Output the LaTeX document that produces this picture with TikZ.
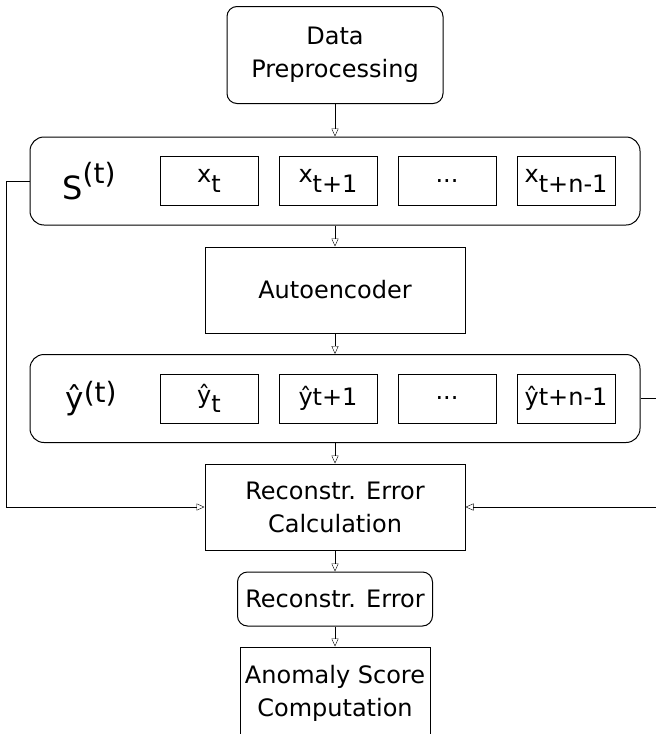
\documentclass[tikz,border=0pt]{standalone}
\usepackage{fontspec}
\setmainfont{DejaVu Sans}
\usetikzlibrary{positioning,arrows.meta}

\begin{document}
\begin{tikzpicture}[node distance=108pt, on grid, >={Triangle[open,length=8pt,width=7pt]},
        every node/.style={font=\fontsize{24}{33}\selectfont, align=center},
        block/.style={draw, line width=1pt, minimum width=260pt, minimum height=86pt, inner sep=0pt},
        roundblock/.style={block, rounded corners=10pt},
        group/.style={draw, line width=1pt, rounded corners=14pt, minimum width=610pt, minimum height=88pt},
        item/.style={draw, line width=1pt, minimum width=98pt, minimum height=49pt, inner sep=0pt}]
        \useasboundingbox (0,0) rectangle (656pt,-734pt);
        \clip (0,0) rectangle (656pt,-734pt);

        \node[roundblock, minimum width=216pt, minimum height=97pt] (prep) at (335pt,-55pt) {Data\\Preprocessing};

        % input window
        \node[group]  (seq)      [below=126pt of prep] {};
        \node         (seqlabel) [left=246pt of seq]   {\fontsize{32}{32}\selectfont S\raisebox{0.5em}{\fontsize{28}{28}\selectfont(t)}};
        \node[item]   (x_1)      [left=126pt of seq]   {x\raisebox{-0.45em}{t}};
        \node[item]   (x_2)      [right=119pt of x_1]  {x\raisebox{-0.45em}{t+1}};
        \node[item]   (x_3)      [right=119pt of x_2]  {...};
        \node[item]   (x_4)      [right=119pt of x_3]  {x\raisebox{-0.45em}{t+n-1}};

        \node[block]  (auto)     [below=109pt of seq]  {Autoencoder};

        % reconstructed window
        \node[group]  (rec)      [below=108.5pt of auto] {};
        \node         (reclabel) [left=244pt of rec]   {\fontsize{31}{31}\selectfont ŷ\raisebox{0.2em}{\fontsize{28}{28}\selectfont(t)}};
        \node[item]   (y_1)      [left=126pt of rec]   {ŷ\raisebox{-0.4em}{t}};
        \node[item]   (y_2)      [right=119pt of y_1]  {ŷt+1};
        \node[item]   (y_3)      [right=119pt of y_2]  {...};
        \node[item]   (y_4)      [right=119pt of y_3]  {ŷt+n-1};

        \node[block]  (calc)     [below=108.5pt of rec] {Reconstr. Error\\Calculation};
        \node[roundblock, minimum width=195pt, minimum height=54pt] (err) [below=92pt of calc] {Reconstr. Error};
        \node[block, minimum width=190pt, minimum height=92pt]      (score) [below=94pt of err] {Anomaly Score\\Computation};

        \draw[->] (prep)  -- (seq);
        \draw[->] (seq)   -- (auto);
        \draw[->] (auto)  -- (rec);
        \draw[->] (rec)   -- (calc);
        \draw[->] (calc)  -- (err);
        \draw[->] (err)   -- (score);
        \draw[->] (seq.west) -- ++(-23pt,0) |- (calc.west);
        \draw[->] (rec.east) -- ++(24pt,0)  |- (calc.east);
\end{tikzpicture}
\end{document}
